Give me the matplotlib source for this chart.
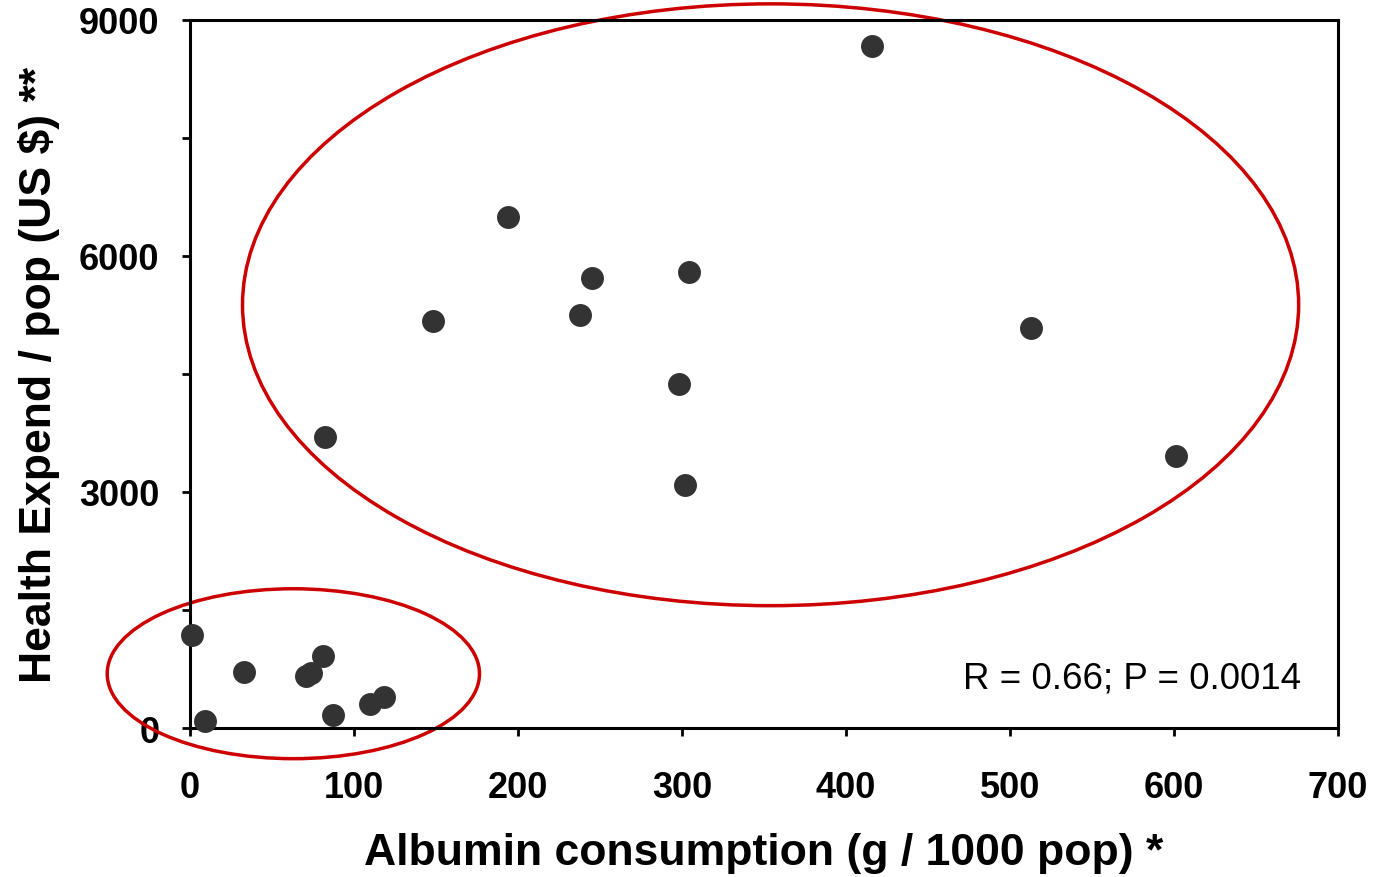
import matplotlib
matplotlib.use('Agg')
import matplotlib.pyplot as plt
from matplotlib.patches import Ellipse

plt.rcParams['font.family'] = ['Liberation Sans', 'DejaVu Sans']

# albumin consumption (g / 1000 pop) vs health expenditure per pop (US $)
albumin = [416, 194, 245, 304, 238, 148, 513, 298, 82, 601, 302,
           1, 33, 71, 74, 81, 118, 110, 87, 9]
expend = [8670, 6500, 5720, 5800, 5250, 5170, 5080, 4370, 3700, 3460, 3090,
          1180, 710, 660, 700, 910, 390, 300, 160, 90]

# groups: (center x, center y, width, height)
groups = [(354, 5380, 644, 7650), (63, 690, 227, 2160)]

fig = plt.figure(figsize=(13.75, 8.78), dpi=100)
ax = fig.add_axes([0.1382, 0.1697, 0.9731 - 0.1382, 0.9761 - 0.1697])

ax.scatter(albumin, expend, s=240, color='#333333', zorder=3, clip_on=False)

for cx, cy, w, h in groups:
    ax.add_patch(Ellipse((cx, cy), w, h, fill=False, edgecolor='#cc0000',
                         linewidth=2.5, clip_on=False, zorder=2))

ax.set_xlim(0, 700)
ax.set_ylim(0, 9000)
ax.set_xticks(range(0, 701, 100))
ax.set_yticks(range(0, 9001, 1500))
ax.set_yticklabels(['0', '', '3000', '', '6000', '', '9000'])

for s in ax.spines.values():
    s.set_linewidth(2.2)
ax.tick_params(direction='out', width=2, length=6, labelsize=26)
ax.tick_params(axis='x', pad=24)
ax.tick_params(axis='y', pad=16)
for lab in ax.get_xticklabels() + ax.get_yticklabels():
    lab.set_fontweight('bold')

ax.set_xlabel('Albumin consumption (g / 1000 pop) *', fontsize=32,
              fontweight='bold', labelpad=20)
ax.set_ylabel('Health Expend / pop (US $) **', fontsize=32,
              fontweight='bold', labelpad=14)

ax.text(0.968, 0.07, 'R = 0.66; P = 0.0014', transform=ax.transAxes,
        ha='right', va='center', fontsize=26.5)

fig.savefig('out.png', dpi=100)
